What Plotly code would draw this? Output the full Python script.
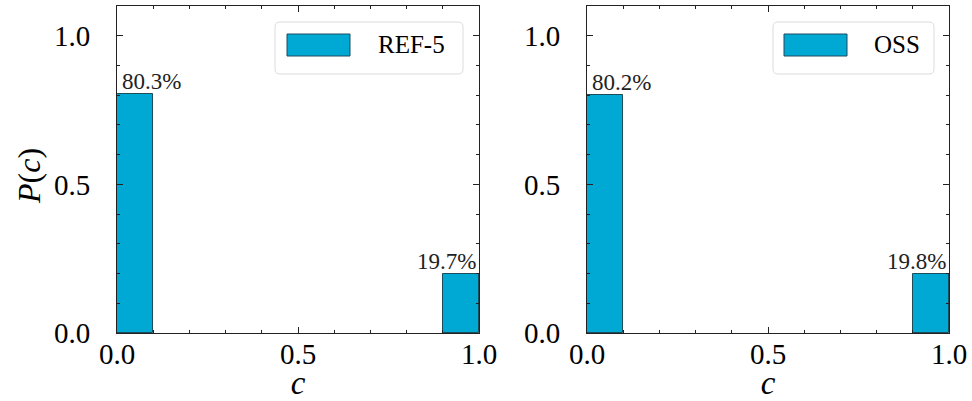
import plotly.graph_objects as go
from plotly.subplots import make_subplots

bin_left = [0.0, 0.9]
bin_width = [0.1, 0.1]
ref_values = [0.803, 0.197]
oss_values = [0.802, 0.198]
ref_labels = ["80.3%", "19.7%"]
oss_labels = ["80.2%", "19.8%"]
names = ["REF-5", "OSS"]

FONT = "Liberation Serif"
BAR = "#00a8d4"
EDGE = "#1d4c5a"

W, H = 972, 401
ML, MR, MT, MB = 117, 23, 6, 68
PW, PH = W - ML - MR, H - MT - MB


def px(x):
    return (x - ML) / PW


def py(y):
    return (H - MB - y) / PH


fig = make_subplots(rows=1, cols=2)

for i, (vals, labs) in enumerate([(ref_values, ref_labels), (oss_values, oss_labels)]):
    col = i + 1
    centers = [l + w / 2 for l, w in zip(bin_left, bin_width)]
    fig.add_trace(go.Bar(x=centers, y=vals, width=bin_width, name=names[i], showlegend=False,
                         hoverinfo="skip",
                         marker=dict(color=BAR, line=dict(color=EDGE, width=1))),
                  row=1, col=col)
    xr = "x" if i == 0 else "x2"
    yr = "y" if i == 0 else "y2"
    fig.add_annotation(x=bin_left[0], y=vals[0], xref=xr, yref=yr, text=labs[0],
                       showarrow=False, xanchor="left", yanchor="bottom", xshift=3, yshift=-2,
                       font=dict(family=FONT, size=23, color="#222"))
    fig.add_annotation(x=bin_left[1] + bin_width[1], y=vals[1], xref=xr, yref=yr, text=labs[1],
                       showarrow=False, xanchor="right", yanchor="bottom", xshift=-1, yshift=-2,
                       font=dict(family=FONT, size=23, color="#222"))

# legends drawn as boxes (pixel positions)
legend_boxes = [(275, 463, 22, 74, 287, 350, 34, 56, 376), (773, 934, 22, 74, 784, 847, 34, 56, 872)]
for (bx0, bx1, by0, by1, qx0, qx1, qy0, qy1, tx), name in zip(legend_boxes, names):
    r = 5
    rx, ry = r / PW, r / PH
    x0, x1, y0, y1 = px(bx0), px(bx1), py(by1), py(by0)
    path = (f"M {x0+rx},{y0} L {x1-rx},{y0} Q {x1},{y0} {x1},{y0+ry} "
            f"L {x1},{y1-ry} Q {x1},{y1} {x1-rx},{y1} L {x0+rx},{y1} "
            f"Q {x0},{y1} {x0},{y1-ry} L {x0},{y0+ry} Q {x0},{y0} {x0+rx},{y0} Z")
    fig.add_shape(type="path", path=path, xref="paper", yref="paper",
                  line=dict(color="#dcdcdc", width=1), fillcolor="white", layer="above")
    fig.add_shape(type="rect", xref="paper", yref="paper", x0=px(qx0), x1=px(qx1),
                  y0=py(qy1), y1=py(qy0), fillcolor=BAR, line=dict(color=EDGE, width=1),
                  layer="above")
    fig.add_annotation(x=px(tx), y=py((qy0 + qy1) / 2), xref="paper", yref="paper",
                       text=name, showarrow=False, xanchor="left", yanchor="middle",
                       font=dict(family=FONT, size=25, color="black"))

# y-axis title as a rotated annotation
fig.add_annotation(x=px(29), y=py(176), xref="paper", yref="paper",
                   text="<i>P</i>(<i>c</i>)", textangle=-90, showarrow=False,
                   xanchor="center", yanchor="middle",
                   font=dict(family=FONT, size=32, color="black"))

axis_common = dict(showline=True, linecolor="#222", linewidth=1, mirror="ticks",
                   ticks="inside", ticklen=6, tickwidth=1, tickcolor="#222",
                   showgrid=False, zeroline=False,
                   tickfont=dict(family=FONT, size=29, color="black"),
                   minor=dict(ticks="inside", ticklen=3, tickwidth=1, tickcolor="#222", dtick=0.1))
for c in (1, 2):
    fig.update_xaxes(range=[0, 1], tickvals=[0, 0.5, 1.0], ticktext=["0.0", "0.5", "1.0"],
                     ticklabelstandoff=-5,
                     title=dict(text="<i>c</i>", font=dict(family=FONT, size=33, color="black"),
                                standoff=6),
                     row=1, col=c, **axis_common)
    fig.update_yaxes(range=[0, 1.1], tickvals=[0, 0.5, 1.0], ticktext=["0.0", "0.5", "1.0"],
                     ticklabelstandoff=20, row=1, col=c, **axis_common)

fig.update_layout(
    width=W, height=H,
    margin=dict(l=ML, r=MR, t=MT, b=MB, autoexpand=False),
    plot_bgcolor="white", paper_bgcolor="white",
    bargap=0,
    showlegend=False,
)
fig.update_xaxes(domain=[0.0, 362 / PW], row=1, col=1)
fig.update_xaxes(domain=[470 / PW, 1.0], row=1, col=2)
fig.write_html("out.html", config={"displayModeBar": False},
               post_script="document.body.style.margin='0px';")
